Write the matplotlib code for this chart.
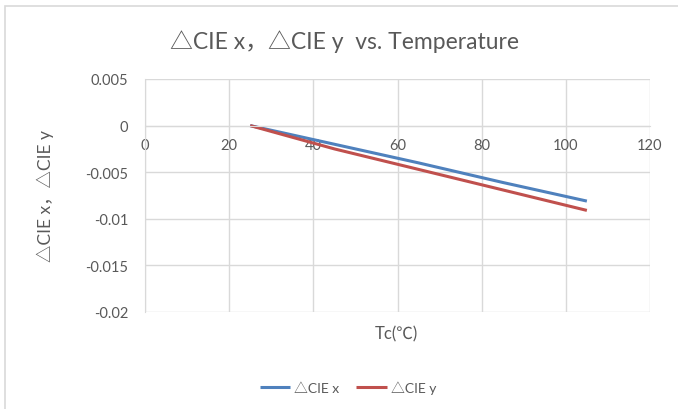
import matplotlib
matplotlib.use("Agg")
import matplotlib.pyplot as plt
from matplotlib.patches import Rectangle

# data
temp = [25, 45, 65, 85, 105]
d_cie_x = [0.0, -0.0020, -0.0040, -0.0061, -0.0081]
d_cie_y = [0.0, -0.0025, -0.0047, -0.0069, -0.0091]

x_ticks = [0, 20, 40, 60, 80, 100, 120]
y_ticks = [-0.02, -0.015, -0.01, -0.005, 0, 0.005]
y_labels = ["-0.02", "-0.015", "-0.01", "-0.005", "0", "0.005"]

plt.rcParams['font.family'] = ['Lato', 'Noto Sans CJK SC', 'DejaVu Sans']
txt = '#595959'
grid = '#d9d9d9'

fig = plt.figure(figsize=(6.78, 4.10), dpi=100)
fig.patches.append(Rectangle((5 / 678, -0.01), 1.1, 1 - 7 / 410 + 0.01,
                             transform=fig.transFigure, fill=False,
                             edgecolor=grid, lw=1.2))

ax = fig.add_axes([145 / 678, 1 - 313 / 410, 505 / 678, 233 / 410])

ax.plot(temp, d_cie_x, color='#4F81BD', lw=2.2, label='△CIE x', solid_capstyle='butt')
ax.plot(temp, d_cie_y, color='#C0504D', lw=2.2, label='△CIE y', solid_capstyle='butt')

ax.set_xlim(0, 120)
ax.set_ylim(-0.02, 0.005)
ax.set_xticks(x_ticks)
ax.set_yticks(y_ticks)
ax.set_yticklabels(y_labels)
ax.grid(True, color=grid, lw=1)
ax.set_axisbelow(True)

for s in ['top', 'right']:
    ax.spines[s].set_visible(False)
ax.spines['bottom'].set_position(('data', 0))
ax.spines['bottom'].set_color(grid)
ax.spines['left'].set_color(grid)

ax.tick_params(axis='both', length=0, labelsize=10.5, labelcolor=txt)
ax.tick_params(axis='y', pad=12)
ax.tick_params(axis='x', pad=9)

fig.text(345 / 678, 1 - 42 / 410, '△CIE x，△CIE y  vs. Temperature',
         ha='center', va='center', fontsize=16.5, color=txt)
fig.text(45 / 678, 1 - 196 / 410, '△CIE x，△CIE y', rotation=90,
         ha='center', va='center', fontsize=12.5, color=txt)
fig.text(396 / 678, 1 - 334 / 410, 'Tc(℃)', ha='center', va='center',
         fontsize=12, color=txt)

fig.legend(loc='center', bbox_to_anchor=(348 / 678, 1 - 388 / 410), ncol=2,
           frameon=False, fontsize=10, labelcolor=txt, handlelength=2.2,
           handletextpad=0.3, columnspacing=1.2)

fig.savefig('out.png', dpi=100)
